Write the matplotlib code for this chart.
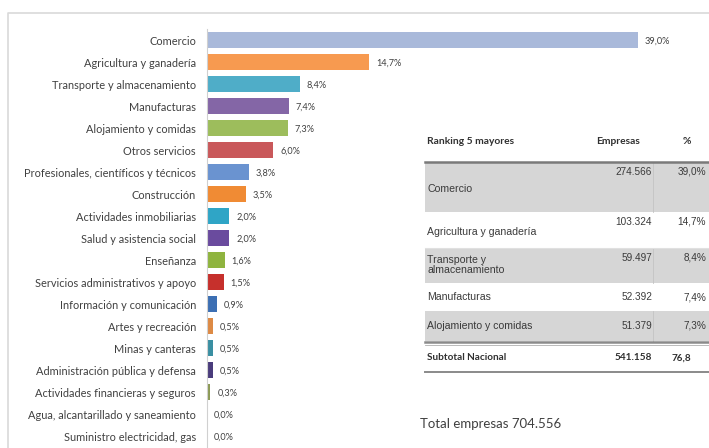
import matplotlib.pyplot as plt
from matplotlib.patches import Rectangle

plt.rcParams['font.family'] = ['Lato', 'DejaVu Sans']

# ---- participación por sector (%) ----
sectores = ["Comercio", "Agricultura y ganadería", "Transporte y almacenamiento",
            "Manufacturas", "Alojamiento y comidas", "Otros servicios",
            "Profesionales, científicos y técnicos", "Construcción",
            "Actividades inmobiliarias", "Salud y asistencia social", "Enseñanza",
            "Servicios administrativos y apoyo", "Información y comunicación",
            "Artes y recreación", "Minas y canteras", "Administración pública y defensa",
            "Actividades financieras y seguros", "Agua, alcantarillado y saneamiento",
            "Suministro electricidad, gas"]
porcentaje = [39.0, 14.7, 8.4, 7.4, 7.3, 6.0, 3.8, 3.5, 2.0, 2.0, 1.6, 1.5,
              0.9, 0.5, 0.5, 0.5, 0.3, 0.0, 0.0]
colores = ["#a9b9da", "#f79a50", "#4fadc8", "#8466a6", "#9dbd5c", "#c9585a",
           "#6a93d0", "#f08b34", "#2fa5c6", "#6a4b9e", "#8fb43f", "#c6302c",
           "#3c6fb3", "#dd8a45", "#3a8fa2", "#4a3c7c", "#8c9a55", "#c8d0e0",
           "#d3d8e6"]

# ---- ranking 5 mayores ----
rank_nombres = ["Comercio", "Agricultura y ganadería", "Transporte y\nalmacenamiento",
                "Manufacturas", "Alojamiento y comidas"]
rank_empresas = ["274.566", "103.324", "59.497", "52.392", "51.379"]
rank_pct = ["39,0%", "14,7%", "8,4%", "7,4%", "7,3%"]
subtotal = ("Subtotal Nacional", "541.158", "76,8")
total_texto = "Total empresas 704.556"

W, H = 709, 448
fig = plt.figure(figsize=(W / 100, H / 100), dpi=100)

# overlay in pixel units for frame and table
ov = fig.add_axes([0, 0, 1, 1])
ov.set_xlim(0, W)
ov.set_ylim(H, 0)
ov.axis('off')
ov.plot([8, 8, W], [H, 13, 13], color='#d9d9d9', lw=1.2)

# ---- bar chart ----
ax = fig.add_axes([207 / W, 1 / H, 440 / W, (447 - 29) / H])
y = range(len(sectores))
ax.barh(y, porcentaje, height=0.76, color=colores)
ax.set_ylim(len(sectores) - 0.5, -0.5)
ax.set_xlim(0, 39.0 * 440 / 431)
ax.set_yticks(list(y))
ax.set_yticklabels(sectores, fontsize=7.9, color='#404040')
ax.tick_params(axis='y', length=0, pad=8)
ax.set_xticks([])
for s in ['top', 'right', 'bottom']:
    ax.spines[s].set_visible(False)
ax.spines['left'].set_color('#d0d0d0')
ax.patch.set_alpha(0)
for i, v in enumerate(porcentaje):
    ax.annotate(f"{v:.1f}%".replace('.', ','), (v, i), xytext=(5, -1),
                textcoords='offset points', va='center', ha='left',
                fontsize=6.6, color='#404040')

# ---- table ----
x0, x1 = 425, W
col_emp, col_pct, div = 652, 706, 653
ov.text(427, 141, "Ranking 5 mayores", fontsize=7.4, fontweight='bold',
        va='center', color='#303030')
ov.text(618, 141, "Empresas", fontsize=7.4, fontweight='bold', ha='center',
        va='center', color='#303030')
ov.text(687, 141, "%", fontsize=7.4, fontweight='bold', ha='center',
        va='center', color='#303030')

filas = [(162, 212), (212, 248), (248, 283), (283, 311), (311, 341)]
for k, (top, bot) in enumerate(filas):
    if k % 2 == 0:
        ov.add_patch(Rectangle((x0, top), x1 - x0, bot - top, color='#d6d6d6', lw=0))
        ov.plot([div, div], [top, bot], color='#c4c4c4', lw=0.6)
    num_y = top + 10
    txt_y = (top + bot) / 2 + (2 if k < 2 else 0)
    if k == 2:
        txt_y = num_y + 7
    if k >= 3:
        num_y = txt_y
    ov.text(427, txt_y, rank_nombres[k], fontsize=7.6, va='center',
            family='Liberation Sans', color='#3a3a3a', linespacing=1.1)
    ov.text(col_emp, num_y, rank_empresas[k], fontsize=7.2, ha='right', va='center',
            family='Liberation Sans', color='#3a3a3a')
    ov.text(col_pct, num_y, rank_pct[k], fontsize=7.2, ha='right', va='center',
            family='Liberation Sans', color='#3a3a3a')

ov.plot([x0, x1], [162, 162], color='#7a7a7a', lw=1.8)
ov.plot([x0, x1], [248, 248], color='#e0e0e0', lw=0.8)
ov.plot([x0, x1], [342, 342], color='#8a8a8a', lw=1.8)
ov.plot([x0, x1], [345, 345], color='#b0b0b0', lw=0.6)
ov.plot([x0, x1], [372, 372], color='#8a8a8a', lw=1.4)

ov.text(427, 358, subtotal[0], fontsize=7.2, fontweight='bold', va='center', color='#303030')
ov.text(col_emp, 358, subtotal[1], fontsize=7.2, fontweight='bold', ha='right',
        va='center', color='#303030')
ov.text(672, 358, subtotal[2], fontsize=7.2, fontweight='bold', ha='left',
        va='center', color='#303030')

ov.text(420, 424, total_texto, fontsize=9.5, va='center', color='#404040')

fig.savefig("out.png", dpi=100)
